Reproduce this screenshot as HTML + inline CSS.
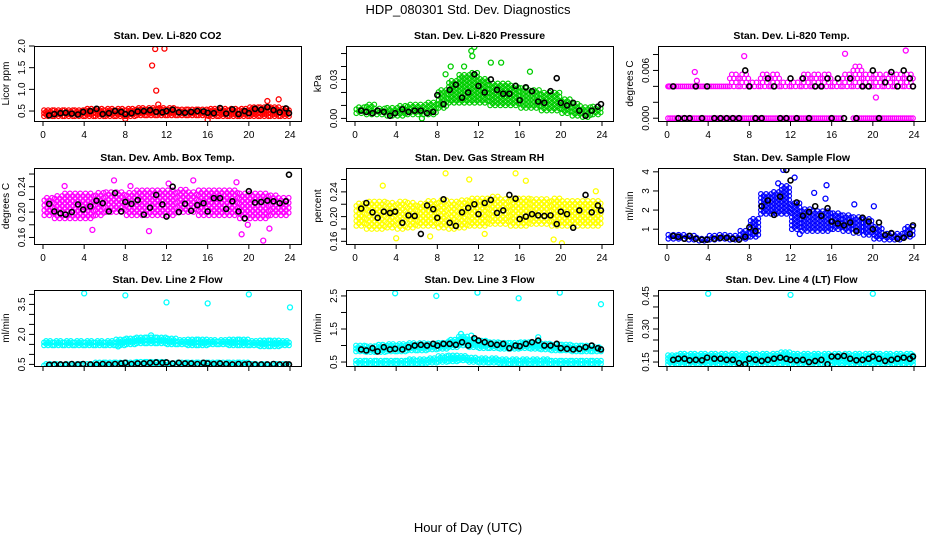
<!DOCTYPE html>
<html><head><meta charset="utf-8">
<style>
html,body{margin:0;padding:0;background:#fff;}
svg{display:block;font-family:"Liberation Sans",Arial,sans-serif;}
</style></head>
<body>
<svg id="chart" width="936" height="540" viewBox="0 0 936 540">
<text x="468" y="14" text-anchor="middle" font-size="13">HDP_080301  Std. Dev. Diagnostics</text>
<text x="468" y="532" text-anchor="middle" font-size="13">Hour of Day (UTC)</text>
</svg>
<script>
// ---- shared data ----
const xTicks = [0,4,8,12,16,20,24];
const blackT = [0.6,1.1,1.7,2.2,2.8,3.4,3.9,4.6,5.2,5.8,6.4,7,7.6,8,8.6,9.2,9.8,10.4,11,11.6,12,12.6,13.2,13.8,14.4,15,15.6,16,16.6,17.2,17.8,18.4,19,19.6,20,20.6,21.2,21.8,22.4,23,23.6,23.9];

// Panel 1: CO2
const co2Lo = [0.38,0.38,0.38,0.38,0.38,0.38,0.38,0.38,0.38,0.4,0.4,0.4,0.4,0.4,0.4,0.4,0.38,0.38,0.38,0.38,0.38,0.38,0.38,0.38];
const co2Hi = [0.55,0.55,0.55,0.55,0.56,0.56,0.56,0.57,0.58,0.6,0.6,0.6,0.58,0.57,0.57,0.57,0.57,0.57,0.58,0.58,0.6,0.6,0.6,0.58];
const co2OutT = [10.6,10.9,11.8,11.0,11.2,21.8,22.9,16.0,8.0];
const co2OutV = [1.55,1.93,1.94,0.97,0.65,0.73,0.77,0.30,0.32];
const co2Black = [0.40,0.43,0.45,0.46,0.44,0.42,0.48,0.50,0.55,0.43,0.45,0.50,0.48,0.43,0.45,0.49,0.50,0.52,0.48,0.47,0.50,0.53,0.47,0.46,0.48,0.50,0.49,0.46,0.45,0.57,0.44,0.54,0.43,0.50,0.45,0.55,0.53,0.59,0.52,0.47,0.56,0.45];

// Panel 2: Pressure
const prLo = [0.004,0.003,0.003,0.002,0.002,0.003,0.003,0.003,0.008,0.012,0.012,0.012,0.012,0.010,0.010,0.010,0.008,0.008,0.006,0.006,0.004,0.002,0.001,0.003];
const prHi = [0.010,0.011,0.009,0.009,0.010,0.012,0.011,0.013,0.022,0.030,0.035,0.036,0.032,0.028,0.028,0.026,0.024,0.022,0.020,0.020,0.016,0.012,0.010,0.010];
const prOutT = [11.3,11.6,11.4,9.3,10.6,13.2,14.2,8.8,17.0,6.5];
const prOutV = [0.052,0.055,0.048,0.040,0.040,0.043,0.043,0.034,0.036,0.000];
const prBlack = [0.006,0.005,0.004,0.006,0.005,0.002,0.004,0.007,0.005,0.006,0.006,0.004,0.005,0.018,0.011,0.022,0.026,0.016,0.020,0.034,0.025,0.020,0.030,0.022,0.019,0.019,0.025,0.014,0.024,0.021,0.013,0.012,0.021,0.031,0.012,0.010,0.012,0.006,0.002,0.006,0.009,0.011];

// Panel 3: Temp
const tpLo = [0.004,0.004,0.004,0.004,0.004,0.004,0.004,0.004,0.004,0.004,0.004,0.004,0.004,0.004,0.004,0.004,0.004,0.004,0.004,0.004,0.004,0.004,0.004,0.004];
const tpHi = [0.004,0.004,0.004,0.004,0.004,0.004,0.006,0.006,0.005,0.006,0.006,0.005,0.005,0.006,0.006,0.006,0.005,0.006,0.007,0.006,0.006,0.006,0.006,0.006];
const tpZeroLo = [0,0,0,0,0,0,0,0,0,0,0,0,0,0,0,0,0,null,0,0,0,0,0,0];
const tpZeroHi = [0,0,0,0,0,0,0,0,0,0,0,0,0,0,0,0,0,null,0,0,0,0,0,0];
const tpOutT = [2.7,7.5,17.3,23.2,20.3,0.2,2.9];
const tpOutV = [0.0058,0.0078,0.0081,0.0085,0.0026,0.004,0.0047];
const tpBlack = [0.004,0,0,0,0.004,0,0.004,0,0,0,0,0,0.006,0.004,0,0,0.005,0.004,0,0,0.005,0,0.005,0,0.004,0.004,0.005,0,0.005,0,0.005,0,0.004,0.004,0.006,0,0.0045,0.0058,0.004,0.006,0.005,0.004];

// Panel 4: Amb box temp
const abLo = [0.195,0.19,0.19,0.19,0.19,0.195,0.2,0.2,0.195,0.195,0.195,0.195,0.195,0.2,0.2,0.195,0.195,0.195,0.195,0.19,0.19,0.19,0.195,0.195];
const abHi = [0.225,0.228,0.23,0.23,0.23,0.232,0.235,0.235,0.232,0.235,0.235,0.235,0.235,0.238,0.235,0.235,0.238,0.236,0.235,0.232,0.232,0.23,0.228,0.225];
const abOutT = [6.9,12.2,14.6,18.8,10.3,4.8,19.3,21.4,19.9,22.0,2.1,8.5];
const abOutV = [0.250,0.245,0.250,0.247,0.170,0.172,0.165,0.155,0.180,0.174,0.241,0.241];
const abBlack = [0.213,0.201,0.198,0.196,0.200,0.212,0.204,0.209,0.218,0.214,0.201,0.230,0.201,0.216,0.213,0.219,0.196,0.207,0.227,0.212,0.193,0.240,0.200,0.213,0.202,0.211,0.214,0.201,0.222,0.222,0.205,0.217,0.201,0.190,0.233,0.215,0.216,0.218,0.217,0.214,0.217,0.259];

// Panel 5: RH
const rhLo = [0.185,0.18,0.18,0.182,0.18,0.182,0.185,0.185,0.182,0.18,0.182,0.185,0.185,0.188,0.188,0.185,0.185,0.188,0.188,0.185,0.185,0.185,0.185,0.185];
const rhHi = [0.225,0.228,0.228,0.225,0.228,0.225,0.225,0.228,0.23,0.228,0.23,0.232,0.232,0.235,0.232,0.232,0.232,0.232,0.23,0.23,0.228,0.228,0.228,0.228];
const rhOutT = [8.8,11.1,15.6,16.6,2.7,20.1,19.3,4.0,7.3,12.6,23.4];
const rhOutV = [0.270,0.260,0.270,0.258,0.250,0.157,0.163,0.165,0.168,0.172,0.241];
const rhBlack = [0.213,0.222,0.207,0.198,0.208,0.206,0.208,0.190,0.202,0.201,0.172,0.218,0.212,0.198,0.228,0.190,0.185,0.207,0.214,0.220,0.204,0.222,0.227,0.206,0.210,0.235,0.229,0.196,0.200,0.204,0.202,0.201,0.202,0.188,0.208,0.204,0.182,0.210,0.235,0.207,0.218,0.210];

// Panel 6: Sample flow
const sfLo = [0.5,0.5,0.45,0.4,0.45,0.5,0.45,0.5,0.6,1.8,1.8,1.8,1.0,0.9,0.9,0.9,1.0,0.9,0.8,0.7,0.5,0.45,0.45,0.6];
const sfHi = [0.8,0.75,0.7,0.6,0.7,0.75,0.7,1.0,1.6,2.9,3.0,3.3,2.4,2.1,2.0,2.0,1.9,1.8,1.7,1.6,1.2,0.8,0.8,1.2];
const sfOutT = [11.3,12.4,15.5,14.3,18.2,20.1,12.9,10.8,15.4];
const sfOutV = [4.1,3.7,3.3,2.9,2.3,2.2,0.75,3.4,2.6];
const sfBlack = [0.65,0.6,0.5,0.65,0.5,0.45,0.45,0.5,0.55,0.55,0.5,0.45,0.6,1.1,0.9,2.2,2.5,1.75,2.7,4.1,3.55,2.4,1.7,1.9,2.2,1.7,2.1,1.4,1.3,1.2,1.35,0.9,1.6,1.4,1.0,1.35,0.7,0.8,0.5,0.55,0.75,1.2];

// Panel 7: Line 2 flow
const l2aLo = [1.45,1.45,1.45,1.45,1.45,1.45,1.45,1.45,1.5,1.55,1.55,1.55,1.5,1.5,1.45,1.45,1.5,1.5,1.45,1.45,1.45,1.4,1.4,1.45];
const l2aHi = [1.7,1.7,1.7,1.72,1.72,1.72,1.72,1.75,1.8,1.85,1.9,1.85,1.8,1.78,1.75,1.75,1.78,1.78,1.75,1.75,1.72,1.7,1.7,1.7];
const l2bLo = [0.45,0.45,0.45,0.45,0.45,0.45,0.45,0.45,0.45,0.48,0.48,0.48,0.48,0.45,0.45,0.45,0.45,0.45,0.45,0.45,0.45,0.45,0.45,0.45];
const l2bHi = [0.58,0.58,0.58,0.58,0.58,0.6,0.6,0.6,0.62,0.65,0.65,0.65,0.62,0.62,0.6,0.6,0.62,0.6,0.6,0.6,0.58,0.58,0.58,0.58];
const l2OutT = [4,8,12,16,20,24,10.5,7.3];
const l2OutV = [4.05,3.95,3.6,3.55,4.0,3.35,1.95,1.4];
const l2Black = [0.48,0.5,0.5,0.5,0.52,0.5,0.52,0.5,0.5,0.52,0.5,0.52,0.55,0.58,0.52,0.55,0.55,0.58,0.6,0.58,0.6,0.55,0.58,0.55,0.55,0.52,0.58,0.55,0.52,0.55,0.52,0.5,0.52,0.5,0.52,0.5,0.5,0.5,0.52,0.5,0.5,0.5];

// Panel 8: Line 3 flow
const l3aLo = [0.82,0.8,0.8,0.82,0.82,0.85,0.85,0.88,0.9,0.95,1.0,0.95,0.92,0.92,0.9,0.9,0.92,0.9,0.88,0.85,0.85,0.82,0.82,0.82];
const l3aHi = [1.02,1.02,1.05,1.05,1.05,1.08,1.1,1.1,1.12,1.2,1.28,1.22,1.15,1.12,1.1,1.1,1.12,1.12,1.08,1.05,1.05,1.02,1.02,1.0];
const l3bLo = [0.45,0.45,0.45,0.45,0.45,0.45,0.45,0.48,0.5,0.52,0.55,0.5,0.48,0.48,0.45,0.45,0.45,0.45,0.45,0.45,0.45,0.45,0.45,0.45];
const l3bHi = [0.58,0.58,0.58,0.58,0.58,0.6,0.62,0.65,0.7,0.72,0.72,0.68,0.65,0.62,0.62,0.6,0.6,0.6,0.6,0.58,0.58,0.58,0.58,0.58];
const l3OutT = [3.9,7.9,11.9,15.9,19.9,23.9,10.3,17.8,11.3];
const l3OutV = [2.58,2.5,2.6,2.43,2.6,2.25,1.35,1.25,1.3];
const l3Black = [0.88,0.85,0.92,0.82,0.95,0.88,0.9,0.88,0.95,1.0,1.02,1.0,1.05,1.0,1.05,1.05,1.02,1.1,1.0,1.22,1.15,1.1,1.05,1.02,1.05,0.92,1.0,0.98,1.05,1.1,1.15,1.0,1.0,1.05,0.92,0.9,0.88,0.9,0.95,1.0,0.92,0.88];

// Panel 9: Line 4 flow
const l4Lo = [0.14,0.14,0.14,0.14,0.14,0.14,0.14,0.14,0.14,0.14,0.14,0.14,0.14,0.14,0.14,0.14,0.14,0.14,0.14,0.14,0.14,0.14,0.14,0.14];
const l4Hi = [0.185,0.19,0.19,0.19,0.19,0.19,0.19,0.19,0.19,0.19,0.19,0.195,0.19,0.19,0.19,0.19,0.19,0.19,0.19,0.19,0.19,0.19,0.19,0.19];
const l4OutT = [4,12,20];
const l4OutV = [0.46,0.455,0.46];
const l4Black = [0.16,0.165,0.165,0.158,0.16,0.158,0.17,0.165,0.165,0.16,0.16,0.145,0.14,0.165,0.16,0.155,0.16,0.165,0.17,0.165,0.16,0.158,0.16,0.15,0.155,0.16,0.14,0.175,0.175,0.178,0.165,0.158,0.16,0.165,0.175,0.165,0.155,0.16,0.165,0.17,0.165,0.175];

// ---- tick label arrays ----
const co2YTicks=[0.5,1.0,1.5,2.0], co2YLabels=["0.5","1.0","1.5","2.0"];
const prYTicks=[0,0.01,0.02,0.03,0.04,0.05], prYLabels=["0.00","","","0.03","",""];
const tpYTicks=[0,0.002,0.004,0.006,0.008], tpYLabels=["0.000","","","0.006",""];
const abYTicks=[0.16,0.18,0.20,0.22,0.24,0.26], abYLabels=["0.16","","0.20","","0.24",""];
const rhYTicks=[0.16,0.18,0.20,0.22,0.24,0.26], rhYLabels=["0.16","","0.20","","0.24",""];
const sfYTicks=[1,2,3,4], sfYLabels=["1","2","3","4"];
const l2YTicks=[0.5,1,1.5,2,2.5,3,3.5,4], l2YLabels=["0.5","","","2.0","","","3.5",""];
const l3YTicks=[0.5,1,1.5,2,2.5], l3YLabels=["0.5","","1.5","","2.5"];
const l4YTicks=[0.15,0.2,0.25,0.3,0.35,0.4,0.45], l4YLabels=["0.15","","","0.30","","","0.45"];

const NS="http://www.w3.org/2000/svg";
const svg=document.getElementById('chart');
function mk(tag,attrs,parent){const e=document.createElementNS(NS,tag);for(const k in attrs)e.setAttribute(k,attrs[k]);(parent||svg).appendChild(e);return e;}

const cols=[{l:34,r:301},{l:346,r:613},{l:658,r:925}];
const rows=[{t:46,b:121},{t:168,b:244},{t:290,b:366}];

const panels=[
 {name:"co2",title:"Stan. Dev. Li-820 CO2",ylab:"Licor ppm",c:0,r:0,ymin:0.27,ymax:2.0,yt:co2YTicks,yl:co2YLabels,color:"#ff0000",bands:[[co2Lo,co2Hi]],ot:co2OutT,ov:co2OutV,bv:co2Black,step:3,sub:5},
 {name:"pressure",title:"Stan. Dev. Li-820 Pressure",ylab:"kPa",c:1,r:0,ymin:-0.002,ymax:0.0558,yt:prYTicks,yl:prYLabels,color:"#00cd00",bands:[[prLo,prHi]],ot:prOutT,ov:prOutV,bv:prBlack,step:4,sub:4},
 {name:"temp",title:"Stan. Dev. Li-820 Temp.",ylab:"degrees C",c:2,r:0,ymin:-0.00035,ymax:0.00907,yt:tpYTicks,yl:tpYLabels,color:"#ff00ff",bands:[[tpLo,tpHi],[tpZeroLo,tpZeroHi]],ot:tpOutT,ov:tpOutV,bv:tpBlack,step:8,sub:5},
 {name:"amb-box-temp",title:"Stan. Dev. Amb. Box Temp.",ylab:"degrees C",c:0,r:1,ymin:0.1497,ymax:0.2695,yt:abYTicks,yl:abYLabels,color:"#ff00ff",bands:[[abLo,abHi]],ot:abOutT,ov:abOutV,bv:abBlack,step:5,sub:4},
 {name:"gas-stream-rh",title:"Stan. Dev. Gas Stream RH",ylab:"percent",c:1,r:1,ymin:0.1557,ymax:0.2786,yt:rhYTicks,yl:rhYLabels,color:"#ffff00",bands:[[rhLo,rhHi]],ot:rhOutT,ov:rhOutV,bv:rhBlack,step:5,sub:4},
 {name:"sample-flow",title:"Stan. Dev. Sample Flow",ylab:"ml/min",c:2,r:1,ymin:0.226,ymax:4.2,yt:sfYTicks,yl:sfYLabels,color:"#0000ff",bands:[[sfLo,sfHi]],ot:sfOutT,ov:sfOutV,bv:sfBlack,step:4,sub:4},
 {name:"line2-flow",title:"Stan. Dev. Line 2 Flow",ylab:"ml/min",c:0,r:2,ymin:0.42,ymax:4.22,yt:l2YTicks,yl:l2YLabels,color:"#00ffff",bands:[[l2aLo,l2aHi],[l2bLo,l2bHi]],ot:l2OutT,ov:l2OutV,bv:l2Black,step:3,sub:5},
 {name:"line3-flow",title:"Stan. Dev. Line 3 Flow",ylab:"ml/min",c:1,r:2,ymin:0.38,ymax:2.68,yt:l3YTicks,yl:l3YLabels,color:"#00ffff",bands:[[l3aLo,l3aHi],[l3bLo,l3bHi]],ot:l3OutT,ov:l3OutV,bv:l3Black,step:3,sub:5},
 {name:"line4-flow",title:"Stan. Dev. Line 4 (LT) Flow",ylab:"ml/min",c:2,r:2,ymin:0.132,ymax:0.477,yt:l4YTicks,yl:l4YLabels,color:"#00ffff",bands:[[l4Lo,l4Hi]],ot:l4OutT,ov:l4OutV,bv:l4Black,step:3,sub:5}
];

panels.forEach(p=>{
  const L=cols[p.c].l,R=cols[p.c].r,T=rows[p.r].t,B=rows[p.r].b;
  const x0=L+9,x24=R-11;
  const X=v=>x0+(x24-x0)*v/24;
  const Y=v=>B-(B-T)*(v-p.ymin)/(p.ymax-p.ymin);
  const g=mk('g',{});
  
  
  const cp=mk('clipPath',{id:'cp-'+p.name},g);
  mk('rect',{x:L,y:T,width:R-L,height:B-T},cp);
  const pts=mk('g',{'clip-path':'url(#cp-'+p.name+')'},g);
  
  
  const dx=1/p.sub;
  p.bands.forEach(bd=>{
    const lo=bd[0],hi=bd[1];
    for(let i=0;i<lo.length;i++){
      if(lo[i]===null)continue;
      for(let s=0;s<p.sub;s++){
        const t=i+dx/2+s*dx;
        const yLo=Y(lo[i]),yHi=Y(hi[i]);
        const off=(s%2)?p.step/2:0;
        for(let yy=yLo-off;yy>=yHi-0.01;yy-=p.step){
          const c=mk('circle',{cx:X(t).toFixed(1),cy:yy.toFixed(1),r:2.3,fill:'none',stroke:p.color,'stroke-width':1.2},pts);
          
          
        }
        if(yLo-off<yHi){const c=mk('circle',{cx:X(t).toFixed(1),cy:yLo.toFixed(1),r:2.3,fill:'none',stroke:p.color,'stroke-width':1.2},pts);
          
          }
      }
    }
  });
  p.ot.forEach((t,i)=>{
    const c=mk('circle',{cx:X(t),cy:Y(p.ov[i]),r:2.5,fill:'none',stroke:p.color,'stroke-width':1.3},pts);
    
    
  });
  blackT.forEach((t,i)=>{
    const c=mk('circle',{cx:X(t),cy:Y(p.bv[i]),r:2.5,fill:'none',stroke:'#000','stroke-width':1.6},pts);
    
    
  });
  const bx=mk('rect',{x:L+0.5,y:T+0.5,width:R-L,height:B-T,fill:'none',stroke:'#000','stroke-width':1},g);
  
  
  const tt=mk('text',{x:(L+R)/2,y:T-7,'text-anchor':'middle','font-size':10.5,'font-weight':'bold'},g);
  tt.textContent=p.title;
  
  
  const yl=mk('text',{x:0,y:0,'text-anchor':'middle','font-size':10,transform:`translate(${L-25},${(T+B)/2}) rotate(-90)`},g);
  yl.textContent=p.ylab;
  
  
  const ya=mk('line',{x1:L+0.5,x2:L+0.5,y1:Y(p.yt[0]),y2:Y(p.yt[p.yt.length-1]),stroke:'#000'},g);
  
  
  p.yt.forEach((v,i)=>{
    const tk=mk('line',{x1:L-5,x2:L+0.5,y1:Y(v),y2:Y(v),stroke:'#000'},g);
    
    
    if(p.yl[i]){
      const lb=mk('text',{x:0,y:0,'text-anchor':'middle','font-size':10,transform:`translate(${L-9},${Y(v)}) rotate(-90)`},g);
      lb.textContent=p.yl[i];
      
      
    }
  });
  const xa=mk('line',{x1:X(0),x2:X(24),y1:B+0.5,y2:B+0.5,stroke:'#000'},g);
  
  
  xTicks.forEach(v=>{
    const tk=mk('line',{x1:X(v),x2:X(v),y1:B+0.5,y2:B+5,stroke:'#000'},g);
    
    
    if(p.r<2){
      const lb=mk('text',{x:X(v),y:B+17,'text-anchor':'middle','font-size':10},g);
      lb.textContent=String(v);
      
      
    }
  });
});
</script>
</body></html>
